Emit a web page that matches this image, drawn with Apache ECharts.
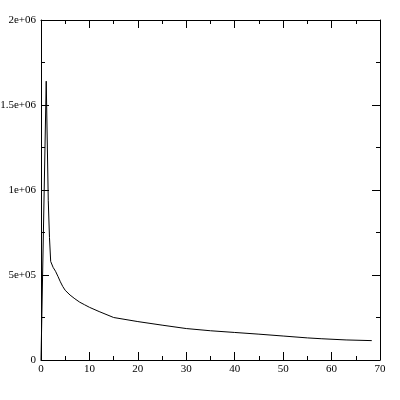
<!DOCTYPE html>
<html>
<head>
<meta charset="utf-8">
<script src="https://cdn.jsdelivr.net/npm/echarts@6/dist/echarts.min.js"></script>
<style>html,body{margin:0;padding:0;background:#fff}#c{width:400px;height:400px}</style>
</head>
<body>
<div id="c"></div>
<script>
var xValues = [0, 1.08, 1.5, 1.75, 2, 2.5, 3, 3.5, 4, 4.5, 5, 6, 7, 8, 9, 10, 12, 15, 20, 25, 30, 35, 40, 45, 50, 55, 58, 63, 68.3];
var yValues = [0, 1640000, 940000, 720000, 580000, 545000, 522000, 492000, 460000, 432000, 410000, 382000, 360000, 340000, 325000, 310000, 285000, 250000, 226000, 205000, 185000, 172000, 162000, 152000, 141000, 130000, 125000, 118000, 114000];
var yTickLabels = {0: '0', 500000: '5e+05', 1000000: '1e+06', 1500000: '1.5e+06', 2000000: '2e+06'};

var font = {fontFamily: 'Liberation Serif', fontSize: 11, color: '#000'};
var axisLine = {show: true, onZero: false, lineStyle: {color: '#000', width: 1}};
var tick = {show: true, inside: true, length: 8, lineStyle: {color: '#000', width: 1}};
var minor = {show: true, splitNumber: 2, length: 4, lineStyle: {color: '#000', width: 1}};

var chart = echarts.init(document.getElementById('c'));
chart.setOption({
  animation: false,
  grid: {left: 41, right: 20, top: 20, bottom: 40, containLabel: false, outerBoundsMode: 'none'},
  xAxis: [
    {type: 'value', position: 'bottom', min: 0, max: 70, interval: 10,
     axisLine: axisLine, axisTick: tick, minorTick: minor, splitLine: {show: false},
     axisLabel: Object.assign({margin: 4}, font)},
    {type: 'value', position: 'top', min: 0, max: 70, interval: 10,
     axisLine: axisLine, axisTick: tick, minorTick: minor, splitLine: {show: false},
     axisLabel: {show: false}}
  ],
  yAxis: [
    {type: 'value', position: 'left', min: 0, max: 2000000, interval: 500000,
     axisLine: axisLine, axisTick: tick, minorTick: minor, splitLine: {show: false},
     axisLabel: Object.assign({margin: 5, formatter: function (v) { return yTickLabels[v] !== undefined ? yTickLabels[v] : ''; }}, font)},
    {type: 'value', position: 'right', min: 0, max: 2000000, interval: 500000,
     axisLine: axisLine, axisTick: tick, minorTick: minor, splitLine: {show: false},
     axisLabel: {show: false}}
  ],
  series: [{
    type: 'line',
    xAxisIndex: 0, yAxisIndex: 0,
    showSymbol: false, symbol: 'none',
    lineStyle: {color: '#000', width: 1},
    data: xValues.map(function (x, i) { return [x, yValues[i]]; })
  }]
});
</script>
</body>
</html>
